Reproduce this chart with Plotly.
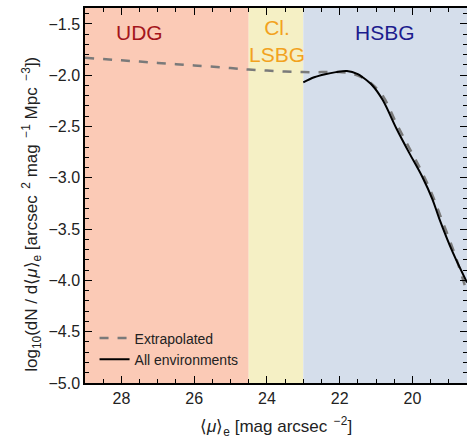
import plotly.graph_objects as go

# Data
ext_x = [29.0, 28.0, 27.0, 26.0, 25.0, 24.5, 24.0, 23.5, 23.0, 22.5, 22.0, 21.7, 21.4, 21.1, 20.8, 20.44, 20.1, 19.73, 19.45, 19.2, 18.9, 18.7, 18.5]
ext_y = [-1.83, -1.855, -1.88, -1.905, -1.93, -1.945, -1.955, -1.965, -1.97, -1.97, -1.97, -1.98, -2.02, -2.09, -2.21, -2.47, -2.70, -2.95, -3.17, -3.40, -3.68, -3.89, -4.12]

all_x = [23.0, 22.7, 22.4, 22.1, 21.8, 21.5, 21.37, 21.1, 20.82, 20.44, 20.1, 19.73, 19.45, 19.26, 18.9, 18.5]
all_y = [-2.07, -2.02, -1.99, -1.97, -1.96, -1.99, -2.02, -2.10, -2.24, -2.52, -2.75, -2.99, -3.21, -3.40, -3.72, -4.02]

region_names = ["UDG", "Cl.<br>LSBG", "HSBG"]
region_x0 = [29.0, 24.5, 23.0]
region_x1 = [24.5, 23.0, 18.5]
region_fill = ["#FBCAB6", "#F5F0C5", "#D5DEEB"]
region_text_color = ["#A3151C", "#F2A21E", "#1C1C8E"]
region_label_x = [27.5, 23.73, 20.75]

x_tick_vals = [28, 26, 24, 22, 20]
x_tick_text = ["28", "26", "24", "22", "20"]
y_tick_vals = [-5.0, -4.5, -4.0, -3.5, -3.0, -2.5, -2.0, -1.5]
y_tick_text = ["−5.0", "−4.5", "−4.0", "−3.5", "−3.0", "−2.5", "−2.0", "−1.5"]

x_title = "⟨<i>μ</i>⟩<sub>e</sub> [mag arcsec<sup>  −2</sup>]"
y_title = ("log<sub>10</sub>(dN / d⟨<i>μ</i>⟩<sub>e</sub> [arcsec<sup>  2</sup> mag"
           "<sup>  −1</sup> Mpc<sup>  −3</sup>])")

x_range = [29.0, 18.5]
y_range = [-5.0, -1.345]

FONT = "Liberation Sans, Arial"

fig = go.Figure()

for x0, x1, c in zip(region_x0, region_x1, region_fill):
    fig.add_shape(type="rect", xref="x", yref="paper", x0=x0, x1=x1, y0=0, y1=1,
                  fillcolor=c, line=dict(width=0), layer="below")

for name, lx, tc in zip(region_names, region_label_x, region_text_color):
    ly = 0.985 if "<br>" in name else 0.97
    fig.add_annotation(x=lx, y=ly, xref="x", yref="paper", text=name, showarrow=False,
                       yanchor="top", font=dict(size=21, color=tc, family=FONT),
                       align="center")

fig.add_trace(go.Scatter(x=ext_x, y=ext_y, mode="lines", name="Extrapolated",
                         line=dict(color="#7A7A7A", width=2.5, dash="dash"), line_shape="spline"))
fig.add_trace(go.Scatter(x=all_x, y=all_y, mode="lines", name="All environments",
                         line=dict(color="black", width=2), line_shape="spline"))

axis_common = dict(showline=True, linecolor="black", linewidth=1.5, mirror="ticks",
                   ticks="inside", ticklen=7, tickwidth=1.2, tickcolor="black",
                   showgrid=False, zeroline=False, automargin=False,
                   tickfont=dict(size=16, color="#222", family=FONT))

fig.update_xaxes(range=x_range, tickmode="array", tickvals=x_tick_vals, ticktext=x_tick_text,
                 minor=dict(ticks="inside", ticklen=4, dtick=0.5, tickcolor="black", showgrid=False),
                 **axis_common)
fig.update_yaxes(range=y_range, tickmode="array", tickvals=y_tick_vals, ticktext=y_tick_text,
                 minor=dict(ticks="inside", ticklen=4, dtick=0.1, tickcolor="black", showgrid=False),
                 **axis_common)

fig.add_annotation(x=0.499, y=-0.115, xref="paper", yref="paper", text=x_title, showarrow=False,
                   xanchor="center", yanchor="middle",
                   font=dict(size=17, color="#222", family=FONT))
fig.add_annotation(x=-0.14, y=0.45, xref="paper", yref="paper", text=y_title, showarrow=False,
                   xanchor="center", yanchor="middle", textangle=-90,
                   font=dict(size=17, color="#222", family=FONT))

fig.update_layout(
    width=467, height=439,
    margin=dict(l=85, r=0, t=8, b=56),
    plot_bgcolor="white", paper_bgcolor="white",
    showlegend=True,
    legend=dict(x=0.025, y=0.02, xanchor="left", yanchor="bottom", bgcolor="rgba(0,0,0,0)",
                font=dict(size=14, color="#222", family=FONT),
                tracegroupgap=0, itemwidth=30),
    font=dict(family=FONT),
)

fig.write_html("out.html", config={"displayModeBar": False},
               post_script="document.body.style.margin='0px';")
